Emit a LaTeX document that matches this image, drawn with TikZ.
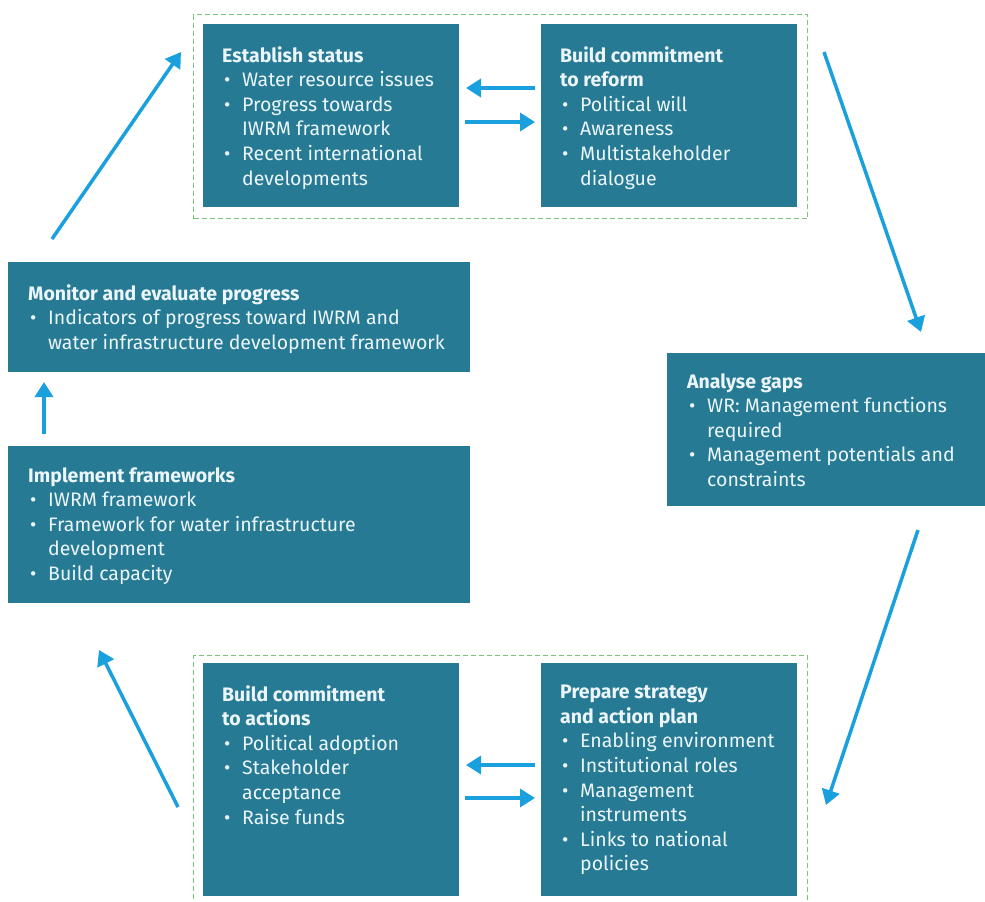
\documentclass[tikz,border=0pt]{standalone}
\usepackage{fontspec}
\setmainfont{Fira Sans}
\usetikzlibrary{arrows.meta}
\definecolor{tealbox}{RGB}{38,122,148}
\definecolor{arrowblue}{RGB}{27,160,222}
\definecolor{dashgreen}{RGB}{120,195,120}
\definecolor{boxtext}{RGB}{236,246,250}
\newcommand{\bul}{\hspace*{2pt}\makebox[18pt][l]{\textbullet}}
\newcommand{\cnt}{\hspace*{20pt}}
\begin{document}
\begin{tikzpicture}[x=1pt,y=-1pt,
  boxstyle/.style={fill=tealbox, draw=none, anchor=north west, inner sep=0pt},
  txt/.style={anchor=north west, inner sep=0pt, text=boxtext, align=left,
    font=\fontsize{19.5}{24.6}\selectfont},
  arr/.style={draw=arrowblue, line width=3.5pt, -{Triangle[length=15pt,width=18pt]}},
  grp/.style={draw=dashgreen, line width=1.3pt, dash pattern=on 5pt off 3pt,
    anchor=north west, inner sep=0pt, fill=none}]
\useasboundingbox (0,0) rectangle (985,902);
\fill[white] (0,0) rectangle (985,902);

% group frames
\node[grp, minimum width=614pt, minimum height=204pt] (topgrp) at (193,14) {};
\node[grp, minimum width=614pt, minimum height=262pt] (botgrp) at (193,655) {};

% boxes
\node[boxstyle, minimum width=256pt, minimum height=183pt] (es) at (203,24) {};
\node[boxstyle, minimum width=256pt, minimum height=183pt] (bcr) at (541,24) {};
\node[boxstyle, minimum width=330pt, minimum height=153pt] (ag) at (667,353) {};
\node[boxstyle, minimum width=256pt, minimum height=233pt] (ps) at (541,663) {};
\node[boxstyle, minimum width=256pt, minimum height=233pt] (bca) at (203,663) {};
\node[boxstyle, minimum width=462pt, minimum height=157pt] (imp) at (8,446) {};
\node[boxstyle, minimum width=462pt, minimum height=110pt] (mon) at (8,262) {};

% texts
\node[txt] (est) at ([shift={(19,22)}]es.north west) {\textbf{Establish status}\\
\bul Water resource issues\\
\bul Progress towards\\
\cnt IWRM framework\\
\bul Recent international\\
\cnt developments};
\node[txt] (bcrt) at ([shift={(19,22)}]bcr.north west) {\textbf{Build commitment}\\
\textbf{to reform}\\
\bul Political will\\
\bul Awareness\\
\bul Multistakeholder\\
\cnt dialogue};
\node[txt] (agt) at ([shift={(20,20)}]ag.north west) {\textbf{Analyse gaps}\\
\bul WR: Management functions\\
\cnt required\\
\bul Management potentials and\\
\cnt constraints};
\node[txt] (pst) at ([shift={(19,22)}]ps.north west) {\textbf{Prepare strategy}\\
\textbf{and action plan}\\
\bul Enabling environment\\
\bul Institutional roles\\
\bul Management\\
\cnt instruments\\
\bul Links to national\\
\cnt policies};
\node[txt] (bcat) at ([shift={(19,22)}]bca.north west) {\textbf{Build commitment}\\
\textbf{to actions}\\
\bul Political adoption\\
\bul Stakeholder\\
\cnt acceptance\\
\bul Raise funds};
\node[txt] (impt) at ([shift={(20,21)}]imp.north west) {\textbf{Implement frameworks}\\
\bul IWRM framework\\
\bul Framework for water infrastructure\\
\cnt development\\
\bul Build capacity};
\node[txt] (mont) at ([shift={(20,22)}]mon.north west) {\textbf{Monitor and evaluate progress}\\
\bul Indicators of progress toward IWRM and\\
\cnt water infrastructure development framework};

% connector end points
\coordinate (m1) at (52,239);   \coordinate (m2) at (181,52);
\coordinate (r1) at (535,88);   \coordinate (r2) at (466,88);
\coordinate (r3) at (465,122);  \coordinate (r4) at (535,122);
\coordinate (g1) at (824,52);   \coordinate (g2) at (921,332);
\coordinate (g3) at (918,530);  \coordinate (g4) at (826,805);
\coordinate (p1) at (535,765);  \coordinate (p2) at (466,765);
\coordinate (p3) at (465,798);  \coordinate (p4) at (535,798);
\coordinate (b1) at (178,807);  \coordinate (b2) at (99,650);
\coordinate (i1) at (44,434);   \coordinate (i2) at (44,382);

\draw[arr] (m1) -- (m2);
\draw[arr] (r1) -- (r2);
\draw[arr] (r3) -- (r4);
\draw[arr] (g1) -- (g2);
\draw[arr] (g3) -- (g4);
\draw[arr] (p1) -- (p2);
\draw[arr] (p3) -- (p4);
\draw[arr] (b1) -- (b2);
\draw[arr] (i1) -- (i2);
\end{tikzpicture}
\end{document}
